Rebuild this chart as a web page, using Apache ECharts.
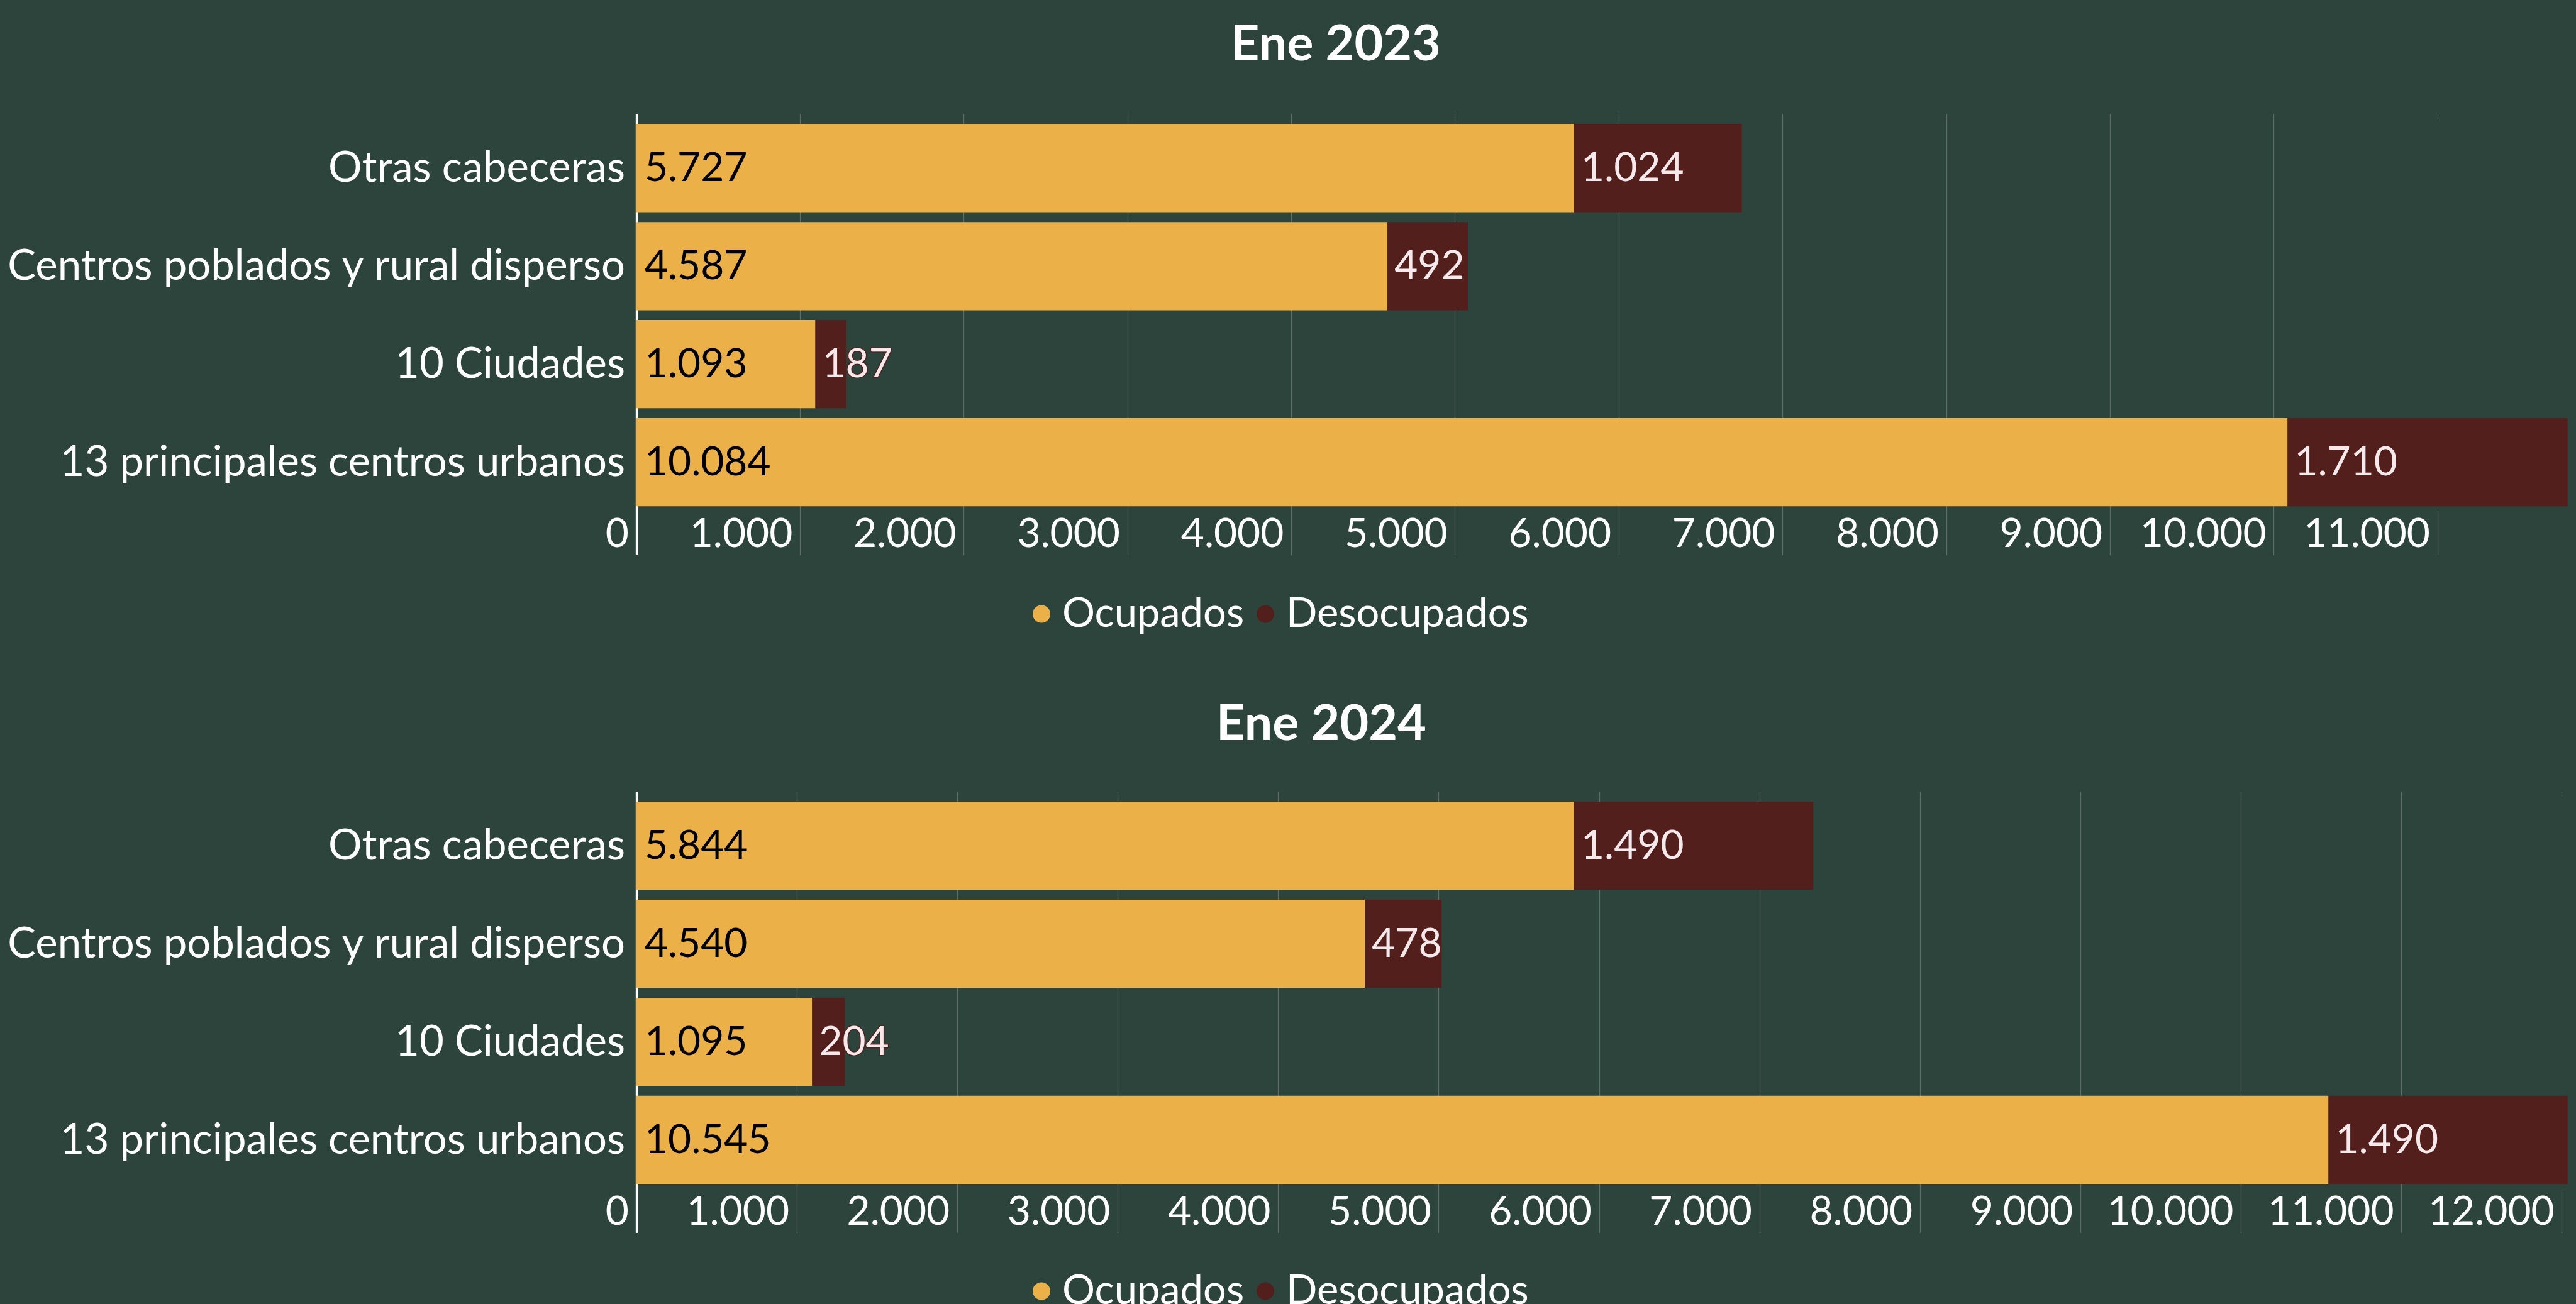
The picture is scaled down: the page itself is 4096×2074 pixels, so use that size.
<!DOCTYPE html>
<html>
<head>
<meta charset="utf-8">
<script src="https://cdn.jsdelivr.net/npm/echarts@6/dist/echarts.min.js"></script>
<style>
html, body { margin: 0; padding: 0; background: #2d443c; }
#chart { width: 4096px; height: 2074px; }
</style>
</head>
<body>
<div id="chart"></div>
<script>
// categories listed top to bottom
const categories = ['Otras cabeceras', 'Centros poblados y rural disperso', '10 Ciudades', '13 principales centros urbanos']
const ocupados2023 = [5727, 4587, 1093, 10084]
const desocupados2023 = [1024, 492, 187, 1710]
const ocupados2024 = [5844, 4540, 1095, 10545]
const desocupados2024 = [1490, 478, 204, 1490]
const ticks2023 = [0, 1000, 2000, 3000, 4000, 5000, 6000, 7000, 8000, 9000, 10000, 11000]
const ticks2024 = [0, 1000, 2000, 3000, 4000, 5000, 6000, 7000, 8000, 9000, 10000, 11000, 12000]
const titles = ['Ene 2023', 'Ene 2024']
const seriesNames = ['Ocupados', 'Desocupados']

const BG = '#2d443c'
const ORANGE = '#ecb048'
const DARKRED = '#521f1c'
const GRIDLINE = '#5b6d66'
const FONT = 'Lato'
const FS = 64

const fmt = v => String(v).replace(/\B(?=(\d{3})+(?!\d))/g, '.')

const chart = echarts.init(document.getElementById('chart'))

const gridTops = [189.5, 1267.4]
const gridHeight = 623.5

// one panel = main axis + tick extensions above/below the plot
const panelAxes = (gridIndex, ticks, max) => {
  const base = { type: 'value', gridIndex, min: 0, max, interval: 1000 }
  return [
    {
      ...base,
      position: 'bottom',
      axisLine: { show: false },
      axisTick: { show: true, customValues: ticks, length: 70, lineStyle: { color: GRIDLINE, width: 1.3 } },
      splitLine: { show: true, showMaxLine: false, lineStyle: { color: GRIDLINE, width: 1.3 } },
      axisLabel: {
        customValues: ticks,
        formatter: fmt,
        color: '#fff',
        fontFamily: FONT,
        fontSize: FS,
        lineHeight: FS,
        align: 'right',
        padding: [0, 12, 0, 0],
        margin: 4
      }
    },
    {
      ...base,
      position: 'top',
      axisLine: { show: false },
      axisTick: { show: true, customValues: ticks, length: 8, lineStyle: { color: GRIDLINE, width: 1.3 } },
      splitLine: { show: false },
      axisLabel: { show: false }
    },
    {
      ...base,
      position: 'bottom',
      axisLine: { show: false },
      axisTick: { show: true, customValues: [0], length: 70, lineStyle: { color: '#fff', width: 3.3 } },
      splitLine: { show: false },
      axisLabel: { show: false }
    },
    {
      ...base,
      position: 'top',
      axisLine: { show: false },
      axisTick: { show: true, customValues: [0], length: 8, lineStyle: { color: '#fff', width: 3.3 } },
      splitLine: { show: false },
      axisLabel: { show: false }
    }
  ]
}

const total = (a, b) => Math.max(...a.map((v, i) => v + b[i]))

const catAxis = gridIndex => ({
  type: 'category',
  gridIndex,
  inverse: true,
  data: categories,
  axisLine: { show: true, lineStyle: { color: '#fff', width: 3.3 } },
  axisTick: { show: false },
  axisLabel: { color: '#fff', fontFamily: FONT, fontSize: 67, margin: 18, padding: [10, 0, 0, 0] }
})

const barSeries = (name, data, axisBase, gridIndex, stack, isDark) => ({
  name,
  type: 'bar',
  stack,
  xAxisIndex: axisBase,
  yAxisIndex: gridIndex,
  barCategoryGap: '10%',
  itemStyle: { color: isDark ? DARKRED : ORANGE },
  label: {
    show: true,
    position: 'insideLeft',
    distance: isDark ? 11 : 13,
    formatter: p => fmt(p.value),
    fontFamily: FONT,
    fontSize: FS,
    padding: [10, 0, 0, 0],
    color: isDark ? '#f6e9eb' : '#000',
    textBorderColor: isDark ? DARKRED : 'transparent',
    textBorderWidth: isDark ? 3 : 0
  },
  emphasis: { disabled: true },
  data
})

const legend = top => ({
  top,
  left: 1642,
  padding: 0,
  itemGap: 20,
  icon: 'circle',
  itemWidth: 28,
  itemHeight: 28,
  data: seriesNames,
  textStyle: { color: '#fff', fontFamily: FONT, fontSize: 65, lineHeight: 65, padding: [0, 0, 0, 14] }
})

chart.setOption({
  backgroundColor: BG,
  animation: false,
  title: [
    { text: titles[0], left: 2119, top: 26, textAlign: 'center', textStyle: { color: '#fff', fontFamily: FONT, fontWeight: 'bold', fontSize: 79, lineHeight: 79 } },
    { text: titles[1], left: 2096, top: 1107, textAlign: 'center', textStyle: { color: '#fff', fontFamily: FONT, fontWeight: 'bold', fontSize: 79, lineHeight: 79 } }
  ],
  legend: [legend(944), legend(2021)],
  grid: gridTops.map(top => ({ left: 1011.9, right: 13.4, top, height: gridHeight })),
  xAxis: [
    ...panelAxes(0, ticks2023, total(ocupados2023, desocupados2023)),
    ...panelAxes(1, ticks2024, total(ocupados2024, desocupados2024))
  ],
  yAxis: [catAxis(0), catAxis(1)],
  series: [
    barSeries(seriesNames[0], ocupados2023, 0, 0, 'y2023', false),
    barSeries(seriesNames[1], desocupados2023, 0, 0, 'y2023', true),
    barSeries(seriesNames[0], ocupados2024, 4, 1, 'y2024', false),
    barSeries(seriesNames[1], desocupados2024, 4, 1, 'y2024', true)
  ]
})
</script>
</body>
</html>
